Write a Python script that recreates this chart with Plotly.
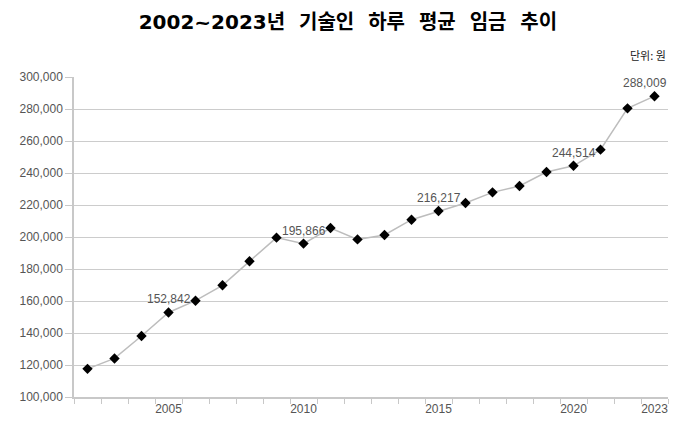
import plotly.graph_objects as go

years = list(range(2002, 2024))
wages = [117600, 124100, 138100, 152842, 160200, 169800, 184800, 199600, 195866, 205600,
         198500, 201250, 210800, 216217, 221250, 227900, 231900, 240600, 244514, 254600,
         280400, 288009]
labeled_years = [2005, 2010, 2015, 2020, 2023]
label_xshift = [0, 0, 0, 0, -10]
x_tick_labels = ["2005", "2010", "2015", "2020", "2023"]
y_ticks = list(range(100000, 300001, 20000))

fig = go.Figure()
fig.add_trace(go.Scatter(
    x=years, y=wages, mode="lines+markers",
    line=dict(color="#bdbdbd", width=1.5),
    marker=dict(symbol="diamond", size=8, color="black"),
    showlegend=False, hoverinfo="skip",
))

for yr, dx in zip(labeled_years, label_xshift):
    v = wages[years.index(yr)]
    fig.add_annotation(x=yr, y=v, text=f"{v:,}", showarrow=False, yshift=13, xshift=dx,
                       font=dict(family="Liberation Sans, Arial", size=12, color="#555555"))

fig.add_annotation(xref="paper", yref="paper", x=1, y=1, xanchor="right", yanchor="bottom",
                   yshift=12, xshift=0, text="단위: 원", showarrow=False,
                   font=dict(family="Noto Sans CJK KR", size=11, color="#222222"))

title_text = "<b>2002~2023년&nbsp; 기술인&nbsp; 하루&nbsp; 평균&nbsp; 임금&nbsp; 추이</b>"

fig.update_layout(
    width=700, height=427,
    margin=dict(l=74, r=32, t=77, b=30),
    paper_bgcolor="white", plot_bgcolor="white",
    title=dict(text=title_text, x=0.497, xanchor="center",
               y=0.948, yanchor="middle",
               font=dict(family="DejaVu Sans, Noto Sans CJK KR", size=20, color="black")),
)
fig.update_xaxes(
    range=[2001.5, 2023.5], tickvals=labeled_years, ticktext=x_tick_labels, ticks="",
    showgrid=False, showline=True, linecolor="#c8c8c8", linewidth=1.5,
    tickfont=dict(family="Liberation Sans, Arial", size=12, color="#555555"),
    minor=dict(tick0=2001.5, dtick=1, ticks="outside", ticklen=5, tickcolor="#c8c8c8", showgrid=False),
    zeroline=False,
)
fig.update_yaxes(
    range=[100000, 300000], tickvals=y_ticks, tickformat=",", ticks="outside", ticklen=7,
    tickcolor="#c8c8c8", showline=True, linecolor="#c8c8c8", linewidth=1.5,
    showgrid=True, gridcolor="#cccccc", gridwidth=1,
    tickfont=dict(family="Liberation Sans, Arial", size=12, color="#555555"),
    zeroline=False,
)

fig.write_html("out.html")
